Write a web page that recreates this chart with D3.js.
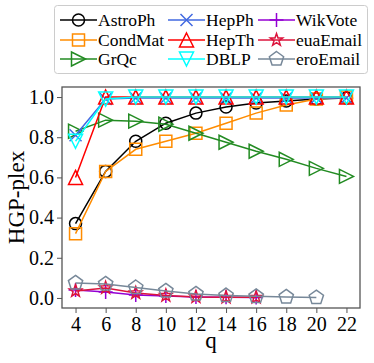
<!DOCTYPE html>
<html>
<head>
<meta charset="utf-8">
<script src="https://cdn.jsdelivr.net/npm/d3@7"></script>
<style>
  body { margin: 0; background: #fff; }
</style>
</head>
<body>
<div id="chart"></div>
<script>
// data
const qAll = [4, 6, 8, 10, 12, 14, 16, 18, 20, 22];
const qShort = [4, 6, 8, 10, 12, 14, 16];
const qEro = [4, 6, 8, 10, 12, 14, 16, 18, 20];

const astroPh = [0.37, 0.63, 0.78, 0.87, 0.92, 0.95, 0.97, 0.98, 0.99, 0.995];
const condMat = [0.32, 0.63, 0.74, 0.78, 0.82, 0.87, 0.92, 0.96, 0.99, 1.0];
const grQc = [0.83, 0.885, 0.88, 0.865, 0.82, 0.775, 0.73, 0.69, 0.645, 0.605];
const hepPh = [0.81, 0.99, 0.995, 0.995, 0.995, 0.995, 0.995, 0.995, 0.995, 0.995];
const hepTh = [0.60, 1.0, 1.0, 1.0, 1.0, 1.0, 1.0, 1.0, 1.0, 1.0];
const dblp = [0.78, 0.99, 1.0, 1.0, 1.0, 1.0, 1.0, 1.0, 1.0, 1.0];
const wikVote = [0.04, 0.03, 0.015, 0.01, 0.005, 0.003, 0.002];
const euaEmail = [0.035, 0.05, 0.025, 0.012, 0.005, 0.003, 0.003];
const eroEmail = [0.075, 0.07, 0.052, 0.035, 0.02, 0.012, 0.008, 0.005, 0.002];

const yTicks = [0.0, 0.2, 0.4, 0.6, 0.8, 1.0];

const series = [
  {name: "AstroPh", x: qAll, y: astroPh, color: "#000000", marker: "circle"},
  {name: "CondMat", x: qAll, y: condMat, color: "#ff8c00", marker: "square"},
  {name: "GrQc", x: qAll, y: grQc, color: "#228b22", marker: "triRight"},
  {name: "HepPh", x: qAll, y: hepPh, color: "#4169e1", marker: "x"},
  {name: "HepTh", x: qAll, y: hepTh, color: "#ff0000", marker: "triUp"},
  {name: "DBLP", x: qAll, y: dblp, color: "#00ffff", marker: "triDown"},
  {name: "WikVote", x: qShort, y: wikVote, color: "#9400d3", marker: "plus"},
  {name: "euaEmail", x: qShort, y: euaEmail, color: "#dc143c", marker: "star"},
  {name: "eroEmail", x: qEro, y: eroEmail, color: "#778899", marker: "pentagon"}
];

const FONT = '"Liberation Serif", "Times New Roman", serif';
const width = 374, height = 363;
const margin = {top: 87, right: 14, bottom: 55, left: 62};

const svg = d3.select("#chart").append("svg")
  .attr("width", width)
  .attr("height", height)
  .style("font-family", FONT);

const x = d3.scaleLinear().domain([3.1, 22.9]).range([margin.left, width - margin.right]);
const y = d3.scaleLinear().domain([-0.05, 1.05]).range([height - margin.bottom, margin.top]);

// marker shapes, centred on 0,0
function poly(n, r, rot) {
  let pts = [];
  for (let i = 0; i < n; i++) {
    let a = rot + i * 2 * Math.PI / n;
    pts.push([r * Math.cos(a), r * Math.sin(a)]);
  }
  return "M" + pts.map(p => p.join(",")).join("L") + "Z";
}
function markerPath(type) {
  const r = 6.5;
  switch (type) {
    case "circle": return d3.symbol(d3.symbolCircle, Math.PI * 6 * 6)();
    case "square": return "M-6,-6L6,-6L6,6L-6,6Z";
    case "triUp": return "M0,-7L7,7L-7,7Z";
    case "triDown": return "M0,7L7,-7L-7,-7Z";
    case "triRight": return "M7,0L-7,-7L-7,7Z";
    case "x": return "M-6,-6L6,6M-6,6L6,-6";
    case "plus": return "M-7,0L7,0M0,-7L0,7";
    case "pentagon": return poly(5, 7.5, -Math.PI / 2);
    case "star": {
      let pts = [];
      for (let i = 0; i < 10; i++) {
        let rr = i % 2 === 0 ? r : r * 0.4;
        let a = -Math.PI / 2 + i * Math.PI / 5;
        pts.push([rr * Math.cos(a), rr * Math.sin(a)]);
      }
      return "M" + pts.map(p => p.join(",")).join("L") + "Z";
    }
  }
}

// axes
const xAxis = svg.append("g")
  .attr("transform", `translate(0,${height - margin.bottom})`)
  .call(d3.axisBottom(x).tickValues(qAll).tickSize(5).tickPadding(4));
const yAxis = svg.append("g")
  .attr("transform", `translate(${margin.left},0)`)
  .call(d3.axisLeft(y).tickValues(yTicks).tickFormat(d3.format(".1f")).tickSize(5).tickPadding(3));

[xAxis, yAxis].forEach(g => {
  g.attr("font-family", FONT).attr("font-size", 20);
  g.select(".domain").remove();
  g.selectAll("line").attr("stroke", "#555").attr("stroke-width", 1);
  g.selectAll("text").attr("fill", "#000");
});

// frame
svg.append("rect")
  .attr("x", margin.left).attr("y", margin.top)
  .attr("width", width - margin.right - margin.left)
  .attr("height", height - margin.bottom - margin.top)
  .attr("fill", "none").attr("stroke", "#555").attr("stroke-width", 1.3);

// lines and markers
const line = d3.line().x(d => x(d[0])).y(d => y(d[1]));

series.forEach(s => {
  const pts = s.x.map((q, i) => [q, s.y[i]]);
  const g = svg.append("g");
  g.append("path")
    .attr("d", line(pts))
    .attr("fill", "none")
    .attr("stroke", s.color)
    .attr("stroke-width", 1.5);
  g.selectAll(".mk")
    .data(pts)
    .enter().append("path")
    .attr("class", "mk")
    .attr("transform", d => `translate(${x(d[0])},${y(d[1])})`)
    .attr("d", markerPath(s.marker))
    .attr("fill", "none")
    .attr("stroke", s.color)
    .attr("stroke-width", 1.5);
});

// axis titles
svg.append("text")
  .attr("x", (margin.left + width - margin.right) / 2)
  .attr("y", 348)
  .attr("text-anchor", "middle")
  .attr("font-size", 23)
  .text("q");
svg.append("text")
  .attr("transform", `translate(24,${(margin.top + height - margin.bottom) / 2}) rotate(-90)`)
  .attr("text-anchor", "middle")
  .attr("font-size", 23)
  .text("HGP-plex");

// legend
const legend = svg.append("g");
legend.append("rect")
  .attr("x", 54.5).attr("y", 5.5)
  .attr("width", 313).attr("height", 68)
  .attr("rx", 3)
  .attr("fill", "#fff")
  .attr("stroke", "#ccc");

const colX = [60, 168, 258];
const rowY = [20, 40, 59];
series.forEach((s, i) => {
  const cx = colX[Math.floor(i / 3)];
  const cy = rowY[i % 3];
  legend.append("line")
    .attr("x1", cx).attr("x2", cx + 37)
    .attr("y1", cy).attr("y2", cy)
    .attr("stroke", s.color).attr("stroke-width", 1.5);
  legend.append("path")
    .attr("transform", `translate(${cx + 18.5},${cy})`)
    .attr("d", markerPath(s.marker))
    .attr("fill", "none")
    .attr("stroke", s.color)
    .attr("stroke-width", 1.5);
  legend.append("text")
    .attr("x", cx + 38)
    .attr("y", cy)
    .attr("dy", "0.35em")
    .attr("font-size", 17.5)
    .text(s.name);
});
</script>
</body>
</html>
